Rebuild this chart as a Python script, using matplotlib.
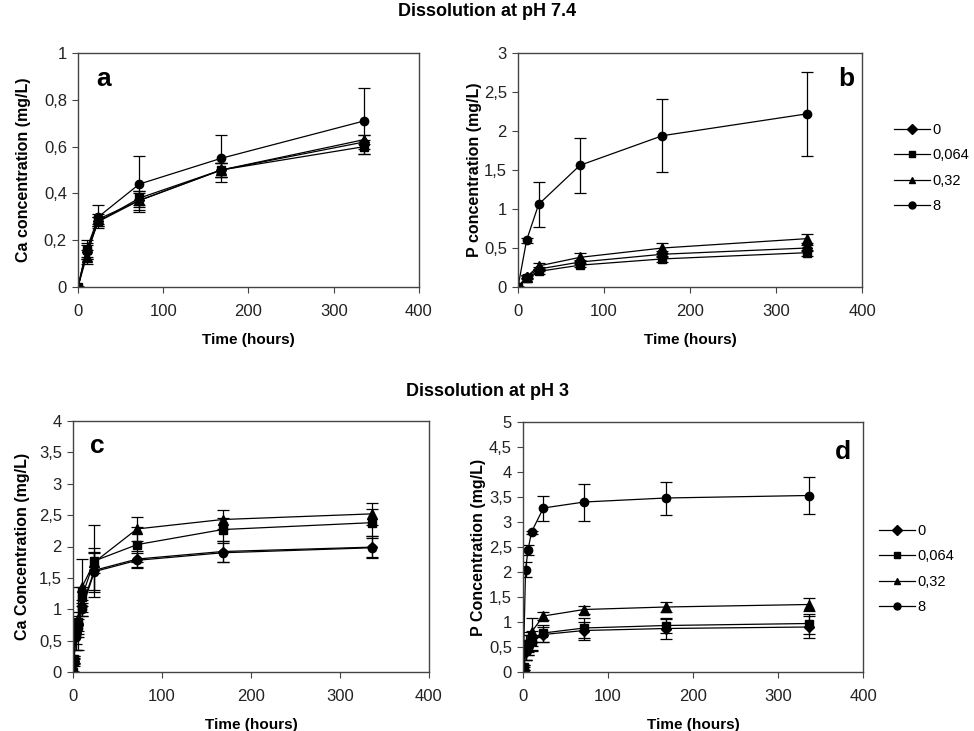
import matplotlib
matplotlib.use("Agg")
import matplotlib.pyplot as plt
from matplotlib.lines import Line2D
import numpy as np

plt.rcParams['font.family'] = ['Liberation Sans', 'DejaVu Sans']

# Concentraciones (leyenda)
labels = ["0", "0,064", "0,32", "8"]
markers = ["D", "s", "^", "o"]
msizes = [5, 5.5, 6.5, 6]

# pH 7.4
t74 = [0, 10, 24, 72, 168, 336]
ca74 = [
    [0, 0.15, 0.28, 0.37, 0.50, 0.62],
    [0, 0.16, 0.28, 0.38, 0.50, 0.60],
    [0, 0.13, 0.29, 0.37, 0.50, 0.63],
    [0, 0.16, 0.30, 0.44, 0.55, 0.71],
]
ca74_err = [
    [0, 0.03, 0.02, 0.03, 0.03, 0.03],
    [0, 0.03, 0.02, 0.03, 0.03, 0.03],
    [0, 0.03, 0.02, 0.04, 0.03, 0.02],
    [0, 0.04, 0.05, 0.12, 0.10, 0.14],
]
p74 = [
    [0, 0.13, 0.23, 0.32, 0.42, 0.50],
    [0, 0.12, 0.20, 0.28, 0.36, 0.44],
    [0, 0.13, 0.27, 0.38, 0.50, 0.62],
    [0, 0.60, 1.06, 1.56, 1.94, 2.22],
]
p74_err = [
    [0, 0.02, 0.03, 0.03, 0.04, 0.04],
    [0, 0.02, 0.03, 0.03, 0.04, 0.04],
    [0, 0.02, 0.04, 0.05, 0.06, 0.06],
    [0, 0.03, 0.29, 0.35, 0.47, 0.54],
]

# pH 3
t3 = [0, 1, 3, 6, 10, 24, 72, 168, 336]
ca3 = [
    [0, 0.18, 0.60, 0.75, 1.05, 1.62, 1.80, 1.92, 1.99],
    [0, 0.20, 0.65, 0.80, 1.20, 1.77, 2.03, 2.27, 2.38],
    [0, 0.20, 0.70, 0.85, 1.35, 1.75, 2.28, 2.43, 2.52],
    [0, 0.15, 0.55, 0.70, 1.00, 1.60, 1.78, 1.90, 1.98],
]
ca3_err = [
    [0, 0.05, 0.25, 0.15, 0.10, 0.35, 0.13, 0.17, 0.17],
    [0, 0.05, 0.20, 0.15, 0.15, 0.57, 0.28, 0.18, 0.22],
    [0, 0.05, 0.15, 0.50, 0.45, 0.17, 0.19, 0.15, 0.18],
    [0, 0.05, 0.20, 0.15, 0.10, 0.30, 0.12, 0.15, 0.15],
]
p3 = [
    [0, 0.05, 0.40, 0.50, 0.60, 0.75, 0.83, 0.87, 0.90],
    [0, 0.10, 0.45, 0.55, 0.62, 0.78, 0.88, 0.93, 0.97],
    [0, 0.10, 0.50, 0.60, 0.80, 1.12, 1.25, 1.30, 1.35],
    [0.05, 0.55, 2.05, 2.45, 2.80, 3.28, 3.40, 3.48, 3.53],
]
p3_err = [
    [0, 0.05, 0.15, 0.15, 0.15, 0.15, 0.18, 0.20, 0.22],
    [0, 0.05, 0.20, 0.20, 0.20, 0.17, 0.20, 0.15, 0.20],
    [0, 0.05, 0.25, 0.20, 0.28, 0.08, 0.08, 0.10, 0.13],
    [0, 0.05, 0.15, 0.10, 0.03, 0.25, 0.37, 0.33, 0.37],
]


def dibujar(ax, t, series, errores, ymax, ystep, ylabel, letra, lx, ly, ylx):
    for y, e, m, ms in zip(series, errores, markers, msizes):
        ax.errorbar(t, y, yerr=e, color="black", marker=m, markersize=ms,
                    linewidth=0.9, elinewidth=0.9, capsize=4, capthick=0.9)
    ax.set_xlim(0, 400)
    ax.set_ylim(0, ymax)
    ax.set_xticks(np.arange(0, 401, 100))
    yt = np.arange(0, ymax + 1e-9, ystep)
    ax.set_yticks(yt)
    ax.set_yticklabels([f"{v:g}".replace(".", ",") for v in yt])
    ax.tick_params(labelsize=12, direction="out", length=4, color="#444",
                   labelcolor="#222")
    ax.tick_params(axis="x", pad=8)
    ax.tick_params(axis="y", pad=4)
    for s in ax.spines.values():
        s.set_color("#444")
        s.set_linewidth(1.0)
    ax.set_xlabel("Time (hours)", fontsize=11, fontweight="bold", labelpad=10)
    ax.set_ylabel(ylabel, fontsize=11.5, fontweight="bold", va="center")
    ax.yaxis.set_label_coords(ylx, 0.5)
    ax.text(lx, ly, letra, transform=ax.transAxes, fontsize=19,
            fontweight="bold", va="center", ha="center")


fig = plt.figure(figsize=(9.74, 7.31), dpi=100)
W, H = 974, 731


def rect(l, t, r, b):
    return [l / W, 1 - b / H, (r - l) / W, (b - t) / H]


ax_a = fig.add_axes(rect(78, 53, 419, 287))
ax_b = fig.add_axes(rect(518, 53, 862, 287))
ax_c = fig.add_axes(rect(73, 421, 429, 672))
ax_d = fig.add_axes(rect(523, 422, 863, 672))

dibujar(ax_a, t74, ca74, ca74_err, 1, 0.2, "Ca concentration (mg/L)",
        "a", 0.075, 0.89, -0.161)
dibujar(ax_b, t74, p74, p74_err, 3, 0.5, "P concentration (mg/L)",
        "b", 0.955, 0.89, -0.125)
dibujar(ax_c, t3, ca3, ca3_err, 4, 0.5, "Ca Concentration (mg/L)",
        "c", 0.067, 0.90, -0.143)
dibujar(ax_d, t3, p3, p3_err, 5, 0.5, "P Concentration (mg/L)",
        "d", 0.94, 0.88, -0.132)

fig.text(487 / W, 1 - 12 / H, "Dissolution at pH 7.4", fontsize=13,
         fontweight="bold", ha="center", va="center")
fig.text(487 / W, 1 - 392 / H, "Dissolution at pH 3", fontsize=13,
         fontweight="bold", ha="center", va="center")

handles = [Line2D([], [], color="black", marker=m, markersize=5,
                  linewidth=0.9) for m in markers]
for x0, y0 in [(894, 123), (879, 524)]:
    fig.legend(handles, labels, loc="upper left",
               bbox_to_anchor=(x0 / W, 1 - y0 / H),
               frameon=False, fontsize=10.5, handlelength=2.5,
               handletextpad=0.12, labelspacing=0.78, borderpad=0,
               borderaxespad=0)

fig.savefig("out.png", dpi=100)
